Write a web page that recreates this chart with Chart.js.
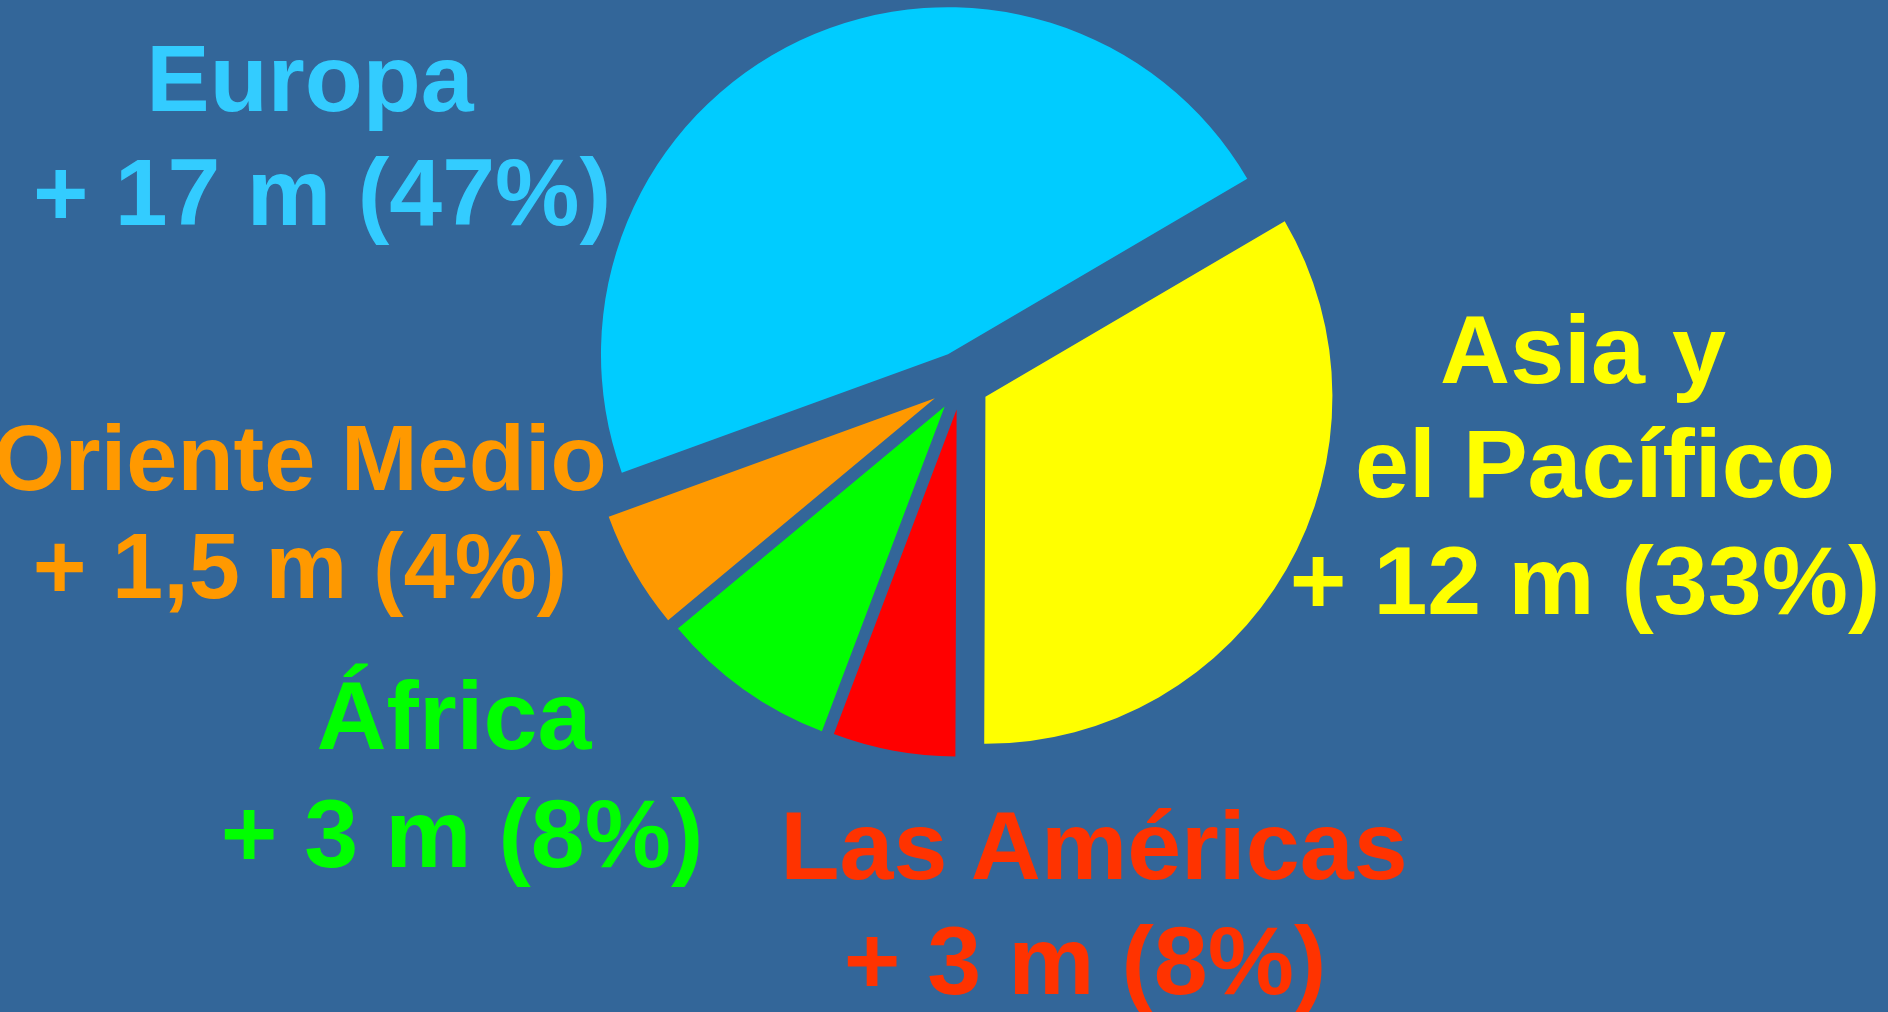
<!DOCTYPE html>
<html>
<head>
<meta charset="utf-8">
<script src="https://cdn.jsdelivr.net/npm/chart.js@4"></script>
<style>
  html, body { margin: 0; padding: 0; background: #336699; overflow: hidden; }
  #wrap { position: relative; width: 1888px; height: 1012px; }
  #pie { position: absolute; left: 0; top: 0; }
  .lbl { position: absolute; white-space: pre; transform: translateX(-50%);
         font-family: "Liberation Sans", Arial, sans-serif; font-weight: bold; }
</style>
</head>
<body>
<div id="wrap">
  <canvas id="pie" width="1888" height="1012"></canvas>
</div>
<script>
/* Tourist arrivals growth by region — exploded pie, slices clockwise from ~60° */
const regions = ["Asia y el Pacífico", "Las Américas", "África", "Oriente Medio", "Europa"];
const shares = [33.5, 5.7, 8.2, 5.5, 47.1];          // slice sizes as drawn (%)
const sliceColors = ["#FFFF00", "#FF0000", "#00FF00", "#FF9900", "#00CCFF"];
const textColors = ["#FFFF00", "#FF3300", "#00FF00", "#FF9900", "#33CCFF"];
const labelLines = [
  ["Asia y", "el Pacífico", "+ 12 m (33%)"],
  ["Las Américas", "+ 3 m (8%)"],
  ["África", "+ 3 m (8%)"],
  ["Oriente Medio", "+ 1,5 m (4%)"],
  ["Europa", "+ 17 m (47%)"],
];

// explosion distance of each slice from the common centre (px)
const explode = [27.6, 26.9, 29.0, 30.7, 31.8];

// push every arc outward along its own mid angle (PowerPoint-style exploded pie)
const explodePlugin = {
  id: "explode",
  afterDatasetUpdate(chart, args) {
    chart.getDatasetMeta(args.index).data.forEach((arc, i) => {
      const mid = (arc.startAngle + arc.endAngle) / 2;
      arc.x += Math.cos(mid) * explode[i];
      arc.y += Math.sin(mid) * explode[i];
    });
  },
};

new Chart(document.getElementById("pie"), {
  type: "pie",
  data: {
    labels: regions,
    datasets: [{ data: shares, backgroundColor: sliceColors, borderWidth: 0, hoverOffset: 0 }],
  },
  options: {
    responsive: false, animation: false, rotation: 59.6, radius: 347,
    layout: { padding: { left: 35, right: 0, top: 0, bottom: 246 } },
    plugins: { legend: { display: false }, tooltip: { enabled: false } },
    events: [],
  },
  plugins: [explodePlugin],
});

/* label placement: font size, then [centre x, baseline y] for each line */
const labelSize = [97, 97, 97, 92, 95];
const labelPos = [
  [[1583, 383], [1595, 497], [1585, 614]],
  [[1094, 879], [1085, 994]],
  [[454, 749], [462, 867]],
  [[300, 490], [300, 598]],
  [[310, 111], [322, 225]],
];
const wrap = document.getElementById("wrap");
labelLines.forEach((lines, i) => {
  const fs = labelSize[i];
  lines.forEach((txt, j) => {
    const d = document.createElement("div");
    d.className = "lbl";
    d.textContent = txt;
    d.style.color = textColors[i];
    d.style.fontSize = fs + "px";
    d.style.lineHeight = fs + "px";
    d.style.left = labelPos[i][j][0] + "px";
    d.style.top = (labelPos[i][j][1] - 0.8465 * fs) + "px";   // baseline → box top
    wrap.appendChild(d);
  });
});
</script>
</body>
</html>
